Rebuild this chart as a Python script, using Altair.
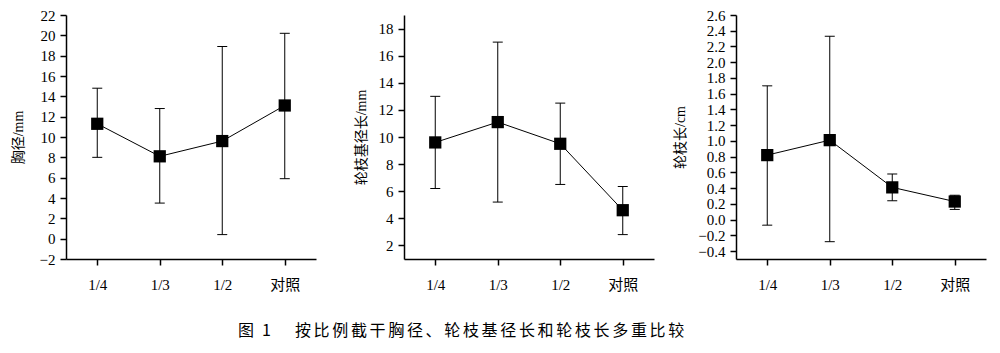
import altair as alt
import pandas as pd

cats = ["1/4", "1/3", "1/2", "对照"]

# 胸径/mm
p1_mean = [11.3, 8.1, 9.6, 13.1]
p1_hi = [14.8, 12.8, 18.9, 20.2]
p1_lo = [8.0, 3.5, 0.4, 5.9]

# 轮枝基径长/mm
p2_mean = [9.6, 11.1, 9.5, 4.6]
p2_hi = [13.0, 17.0, 12.5, 6.35]
p2_lo = [6.2, 5.2, 6.5, 2.8]

# 轮枝长/cm
p3_mean = [0.82, 1.01, 0.41, 0.23]
p3_hi = [1.70, 2.33, 0.58, 0.31]
p3_lo = [-0.07, -0.28, 0.24, 0.13]

p1_ticks = list(range(-2, 23, 2))
p2_ticks = list(range(2, 19, 2))
p3_ticks = [round(-0.4 + 0.2 * i, 1) for i in range(16)]

caption_label = "图\u20021"
caption_body = "按比例截干胸径、轮枝基径长和轮枝长多重比较"
caption = caption_label + "\u2003\u2002" + "\u2006".join(caption_body)

FONT = "Liberation Serif, Noto Sans CJK SC"


def panel(mean, lo, hi, title, domain, ticks, fmt, title_pad):
    df = pd.DataFrame({"cat": cats, "mean": mean, "lo": lo, "hi": hi})
    x = alt.X(
        "cat:N",
        sort=cats,
        scale=alt.Scale(type="point", padding=0.5),
        axis=alt.Axis(title=None, labelAngle=0),
    )
    yscale = alt.Scale(domain=domain, nice=False, zero=False)
    yaxis = alt.Axis(
        title=title, values=ticks, format=fmt, titlePadding=title_pad,
        labelOverlap=False, labelFlush=False, tickCount=len(ticks),
    )

    def Y(field):
        return alt.Y(field, type="quantitative", scale=yscale, axis=yaxis)

    base = alt.Chart(df).encode(x=x)
    rule = base.mark_rule(color="black", strokeWidth=1).encode(y=Y("lo"), y2="hi:Q")
    cap_lo = base.mark_tick(
        orient="horizontal", size=10, thickness=1, color="black", opacity=1
    ).encode(y=Y("lo"))
    cap_hi = base.mark_tick(
        orient="horizontal", size=10, thickness=1, color="black", opacity=1
    ).encode(y=Y("hi"))
    line = base.mark_line(color="black", strokeWidth=1).encode(y=Y("mean"))
    pts = base.mark_square(size=150, color="black", opacity=1, filled=True).encode(
        y=Y("mean")
    )
    return alt.layer(rule, cap_lo, cap_hi, line, pts).properties(width=250, height=244)


c1 = panel(p1_mean, p1_lo, p1_hi, "胸径/mm", [-2, 22], p1_ticks, "d", 14)
c2 = panel(p2_mean, p2_lo, p2_hi, "轮枝基径长/mm", [1, 19], p2_ticks, "d", 10)
c3 = panel(p3_mean, p3_lo, p3_hi, "轮枝长/cm", [-0.5, 2.6], p3_ticks, ".1f", 10)

chart = (
    alt.hconcat(alt.hconcat(c1, c2, spacing=38), c3, spacing=19)
    .properties(
        padding={"left": 11, "top": 8, "right": 5, "bottom": 5},
        title=alt.TitleParams(
            caption,
            orient="bottom",
            anchor="start",
            dx=227,
            offset=31,
            font="Noto Sans CJK SC",
            fontSize=16,
            fontWeight="normal",
            color="black",
        ),
    )
    .configure_view(stroke=None)
    .configure_axis(
        domainColor="black",
        tickColor="black",
        labelColor="black",
        titleColor="black",
        labelFont=FONT,
        titleFont=FONT,
        labelFontSize=15,
        titleFontSize=14,
        titleFontWeight="normal",
        tickSize=6,
        domainWidth=1.5,
        tickWidth=1.5,
        grid=False,
        labelPadding=5,
    )
    .configure_axisX(labelPadding=12)
)

chart.save("out.html", embed_options={"renderer": "svg", "actions": False})
